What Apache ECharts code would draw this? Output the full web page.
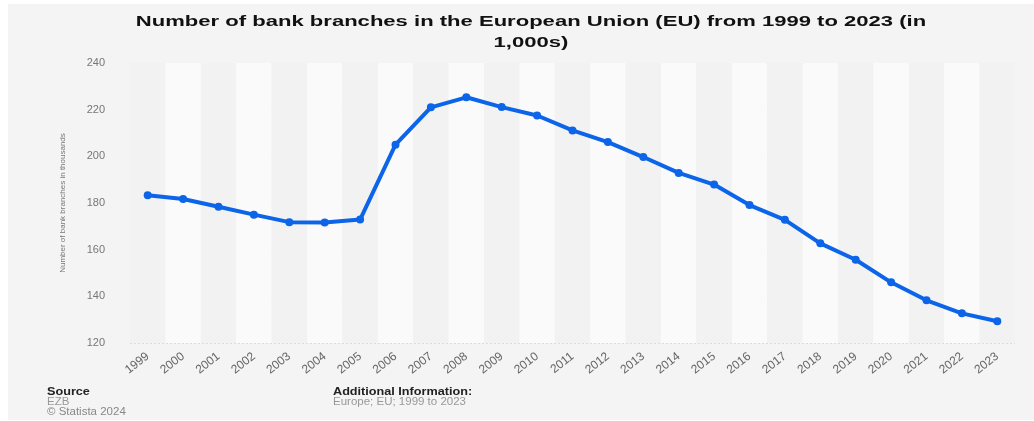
<!DOCTYPE html>
<html>
<head>
<meta charset="utf-8">
<script src="https://cdn.jsdelivr.net/npm/echarts@6/dist/echarts.min.js"></script>
<style>
  html, body { margin: 0; padding: 0; background: #ffffff; }
  #chart { width: 1034px; height: 421px; }
</style>
</head>
<body>
<div id="chart"></div>
<script>
// Years shown on the category axis
const years = ['1999','2000','2001','2002','2003','2004','2005','2006','2007','2008','2009','2010','2011','2012','2013','2014','2015','2016','2017','2018','2019','2020','2021','2022','2023'];
// Bank branches in the EU, in thousands
const branches = [183.3, 181.7, 178.4, 175.0, 171.8, 171.6, 172.9, 205.0, 221.0, 225.3, 221.1, 217.5, 211.1, 206.1, 199.7, 192.9, 187.9, 179.1, 172.8, 162.7, 155.7, 146.0, 138.3, 132.7, 129.3];
// Value axis ticks
const yTicks = [120, 140, 160, 180, 200, 220, 240];

const titleLines = ['Number of bank branches in the European Union (EU) from 1999 to 2023 (in', '1,000s)'];
const FONT = 'Liberation Sans, Arial, sans-serif';

const chart = echarts.init(document.getElementById('chart'), null, { renderer: 'canvas' });

// Helper for wide, slightly stretched text blocks
function wideText(x, y, text, font, fill, align, sx) {
  return {
    type: 'text', x: x, y: y, scaleX: sx, z: 10,
    style: { text: text, font: font, fill: fill, textAlign: align, textVerticalAlign: 'middle' }
  };
}

chart.setOption({
  backgroundColor: '#ffffff',
  animation: false,
  textStyle: { fontFamily: FONT },
  graphic: [
    { type: 'rect', z: -100, shape: { x: 8, y: 4, width: 1026, height: 416 }, style: { fill: '#f4f4f4' } },
    wideText(531, 22, titleLines[0], 'bold 15px ' + FONT, '#111', 'center', 1.47),
    wideText(531, 43, titleLines[1], 'bold 15px ' + FONT, '#111', 'center', 1.47),
    wideText(47, 392, 'Source', 'bold 11px ' + FONT, '#222', 'left', 1.15),
    wideText(47, 402, 'EZB', '10px ' + FONT, '#999', 'left', 1.15),
    wideText(47, 412, '© Statista 2024', '10px ' + FONT, '#888', 'left', 1.15),
    wideText(333, 392, 'Additional Information:', 'bold 11px ' + FONT, '#222', 'left', 1.15),
    wideText(333, 402, 'Europe; EU; 1999 to 2023', '10px ' + FONT, '#999', 'left', 1.15)
  ],
  grid: { left: 130, right: 19, top: 63, bottom: 78, containLabel: false },
  xAxis: {
    type: 'category',
    data: years,
    boundaryGap: true,
    axisLine: { show: false },
    axisTick: { show: false },
    axisLabel: { rotate: 38, color: '#666', fontSize: 12, margin: 12, interval: 0 },
    splitArea: { show: true, interval: 0, areaStyle: { color: ['#f2f2f2', '#fafafa'] } }
  },
  yAxis: {
    type: 'value',
    min: yTicks[0],
    max: yTicks[yTicks.length - 1],
    interval: 20,
    name: 'Number of bank branches in thousands',
    nameLocation: 'middle',
    nameGap: 63,
    nameTextStyle: { color: '#777', fontSize: 8, fontFamily: FONT },
    axisLine: { show: false },
    axisTick: { show: false },
    axisLabel: { color: '#777', fontSize: 11, margin: 25 },
    splitLine: { show: true, lineStyle: { color: '#dcdcdc', type: [2, 2], width: 1 } }
  },
  series: [{
    type: 'line',
    data: branches,
    symbol: 'circle',
    symbolSize: 8,
    lineStyle: { color: '#0c64e8', width: 4 },
    itemStyle: { color: '#0c64e8' }
  }]
});
</script>
</body>
</html>
